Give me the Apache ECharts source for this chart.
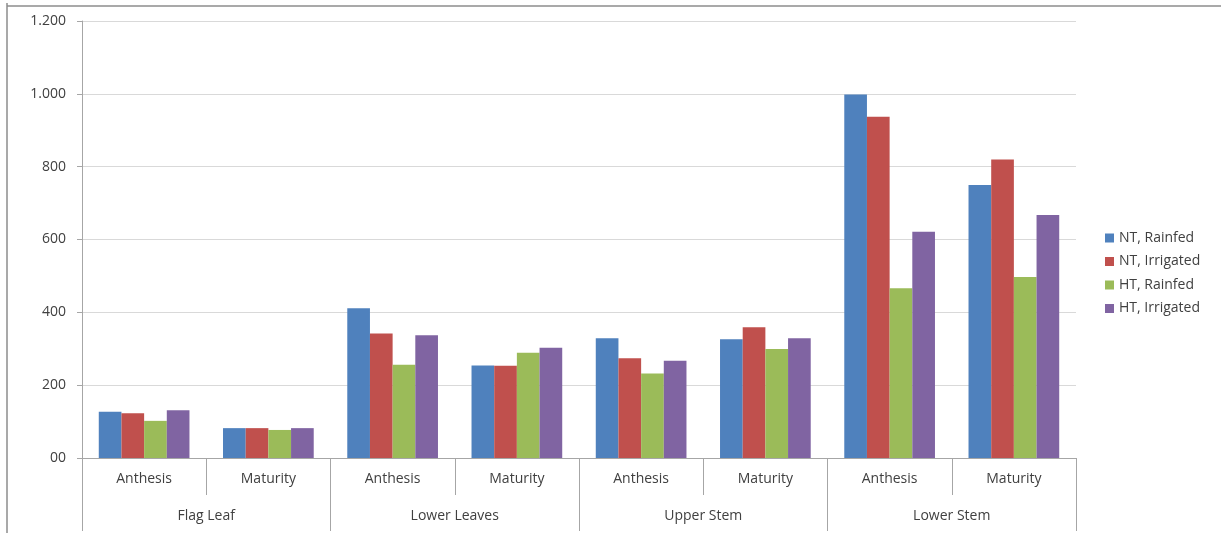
<!DOCTYPE html>
<html>
<head>
<meta charset="utf-8">
<script src="https://cdn.jsdelivr.net/npm/echarts@6/dist/echarts.min.js"></script>
<style>
  html, body { margin: 0; padding: 0; background: #fff; }
  #chart { width: 1221px; height: 533px; }
</style>
</head>
<body>
<div id="chart"></div>
<script>
// stage / organ labels (two-level category axis)
const stages = ["Anthesis", "Maturity", "Anthesis", "Maturity", "Anthesis", "Maturity", "Anthesis", "Maturity"];
const organs = ["Flag Leaf", "Lower Leaves", "Upper Stem", "Lower Stem"];

const seriesNames = ["NT, Rainfed", "NT, Irrigated", "HT, Rainfed", "HT, Irrigated"];
const ntRainfed = [127, 82, 411, 254, 329, 326, 998, 750];
const ntIrrigated = [123, 82, 342, 253, 274, 359, 937, 820];
const htRainfed = [102, 77, 256, 289, 232, 299, 466, 497];
const htIrrigated = [131, 82, 337, 303, 267, 329, 621, 667];

const yTicks = [0, 200, 400, 600, 800, 1000, 1200];
const yTickLabels = ["00", "200", "400", "600", "800", "1.000", "1.200"];

const colors = ["#4F81BD", "#C0504D", "#9BBB59", "#8064A2"];
const font = "'Open Sans', 'Liberation Sans', sans-serif";
const textColor = "#404040";
const axisGray = "#a6a6a6";
const fs = 14;

const chart = echarts.init(document.getElementById("chart"));

chart.setOption({
  animation: false,
  color: colors,
  textStyle: { fontFamily: font },
  grid: { left: 82, right: 145, top: 21, bottom: 75 },
  legend: {
    orient: "vertical",
    left: 1100,
    top: 226,
    itemWidth: 9,
    itemHeight: 9,
    itemGap: 9.5,
    icon: "rect",
    textStyle: { fontSize: fs, color: textColor, fontFamily: font },
    data: seriesNames
  },
  xAxis: [
    {
      type: "category",
      data: stages,
      position: "bottom",
      axisLine: { lineStyle: { color: axisGray } },
      axisTick: { show: true, interval: 0, length: 37, lineStyle: { color: axisGray } },
      axisLabel: { interval: 0, margin: 14, fontSize: fs, color: textColor, fontFamily: font }
    },
    {
      type: "category",
      data: organs,
      position: "bottom",
      offset: 37,
      axisLine: { show: false },
      axisTick: { show: true, interval: 0, length: 36, lineStyle: { color: axisGray } },
      axisLabel: { interval: 0, margin: 14, fontSize: fs, color: textColor, fontFamily: font }
    }
  ],
  yAxis: {
    type: "value",
    min: 0,
    max: 1200,
    interval: 200,
    axisLine: { show: true, lineStyle: { color: axisGray } },
    axisTick: { show: true, length: 5, lineStyle: { color: axisGray } },
    axisLabel: {
      margin: 16,
      fontSize: fs,
      color: textColor,
      fontFamily: font,
      formatter: (v) => yTickLabels[yTicks.indexOf(v)]
    },
    splitLine: { lineStyle: { color: "#d9d9d9" } }
  },
  series: [ntRainfed, ntIrrigated, htRainfed, htIrrigated].map((vals, i) => ({
    name: seriesNames[i],
    type: "bar",
    xAxisIndex: 0,
    data: vals,
    barGap: "0%",
    barCategoryGap: "27%",
    itemStyle: { color: colors[i] }
  })),
  graphic: [
    {
      type: "line",
      shape: { x1: 7, y1: 3, x2: 7, y2: 533 },
      style: { stroke: "#8c8c8c", lineWidth: 1.5 }
    },
    {
      type: "line",
      shape: { x1: 7, y1: 6, x2: 1221, y2: 6 },
      style: { stroke: "#8c8c8c", lineWidth: 1.5 }
    }
  ]
});
</script>
</body>
</html>
